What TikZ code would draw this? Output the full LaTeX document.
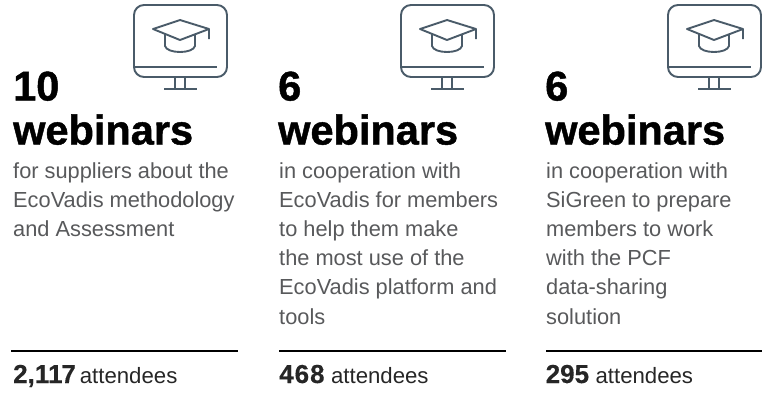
\documentclass[tikz,border=0pt]{standalone}
\usepackage{fontspec}
\setmainfont{Liberation Sans}
\newfontfamily\heavy[FakeBold=1.1]{Liberation Sans Bold}
\newfontfamily\semiheavy[FakeBold=0.4]{Liberation Sans Bold}
\definecolor{slate}{HTML}{4A5B69}
\definecolor{body}{HTML}{58595B}
\newcommand{\statnum}[1]{{\fontsize{26}{26}\selectfont\semiheavy #1}\hspace{2.5pt}}
\tikzset{x=1pt,y=-1pt,
 big/.style={anchor=base west,inner sep=0pt,font=\fontsize{41.5}{41.5}\selectfont\heavy,text=black},
 copytext/.style={anchor=base west,inner sep=0pt,font=\fontsize{21.8}{21.8}\selectfont,text=body},
 stat/.style={anchor=base west,inner sep=0pt,font=\fontsize{22.2}{22.2}\selectfont,text=black!85},
 rulebar/.style={line width=2.6pt,black},
 icon/.style={line width=1.9pt,slate,line join=round}}
\newcommand{\monitor}[1]{%
 \begin{scope}[xshift=#1]
 \draw[icon,rounded corners=10pt] (134,5) rectangle (227,77);
 \draw[icon] (135,67) -- (217,67);
 \draw[icon] (175,77) -- (175,89) (185,77) -- (185,89) (164,89) -- (197,89);
 \draw[icon] (209,39) -- (209,29) -- (180,20) -- (153,29) -- (180,40) -- (209,29);
 \draw[icon] (165,34) -- (165,46) .. controls (167,54) and (193,54) .. (195,46) -- (195,34);
 \end{scope}}
\begin{document}
\begin{tikzpicture}
\useasboundingbox (0,0) rectangle (762,392);
\monitor{0pt}
\monitor{267pt}
\monitor{534pt}
% Column 1
\node[big] (n1) at (13,100.5) {10};
\node[big] (w1) at (13,144.5) {webinars};
\node[copytext] (a1) at (13,178) {for suppliers about the};
\node[copytext] (a2) at (13,207.2) {EcoVadis methodology};
\node[copytext] (a3) at (13,236.4) {and Assessment};
\coordinate (r1a) at (11,351); \coordinate (r1b) at (238,351);
\draw[rulebar] (r1a) -- (r1b);
\node[stat] (s1) at (13,383) {\statnum{2,1\kern-1.2pt 1\kern-1.2pt 7}\hspace{1.5pt}attendees};
% Column 2
\node[big] (n2) at (278,100.5) {6};
\node[big] (w2) at (278,144.5) {webinars};
\node[copytext] (b1) at (279,178) {in cooperation with};
\node[copytext] (b2) at (279,207.2) {EcoVadis for members};
\node[copytext] (b3) at (279,236.4) {to help them make};
\node[copytext] (b4) at (279,265.6) {the most use of the};
\node[copytext] (b5) at (279,294.8) {EcoVadis platform and};
\node[copytext] (b6) at (279,324) {tools};
\coordinate (r2a) at (279,351); \coordinate (r2b) at (506,351);
\draw[rulebar] (r2a) -- (r2b);
\node[stat] (s2) at (279,383) {\statnum{4\kern1pt 6\kern1pt 8}\hspace{4pt}attendees};
% Column 3
\node[big] (n3) at (545,100.5) {6};
\node[big] (w3) at (545,144.5) {webinars};
\node[copytext] (c1) at (546,178) {in cooperation with};
\node[copytext] (c2) at (546,207.2) {SiGreen to prepare};
\node[copytext] (c3) at (546,236.4) {members to work};
\node[copytext] (c4) at (546,265.6) {with the PCF};
\node[copytext] (c5) at (546,294.8) {data-sharing};
\node[copytext] (c6) at (546,324) {solution};
\coordinate (r3a) at (546,351); \coordinate (r3b) at (762,351);
\draw[rulebar] (r3a) -- (r3b);
\node[stat] (s3) at (545.5,383) {\statnum{295}\hspace{4pt}attendees};
\end{tikzpicture}
\end{document}
